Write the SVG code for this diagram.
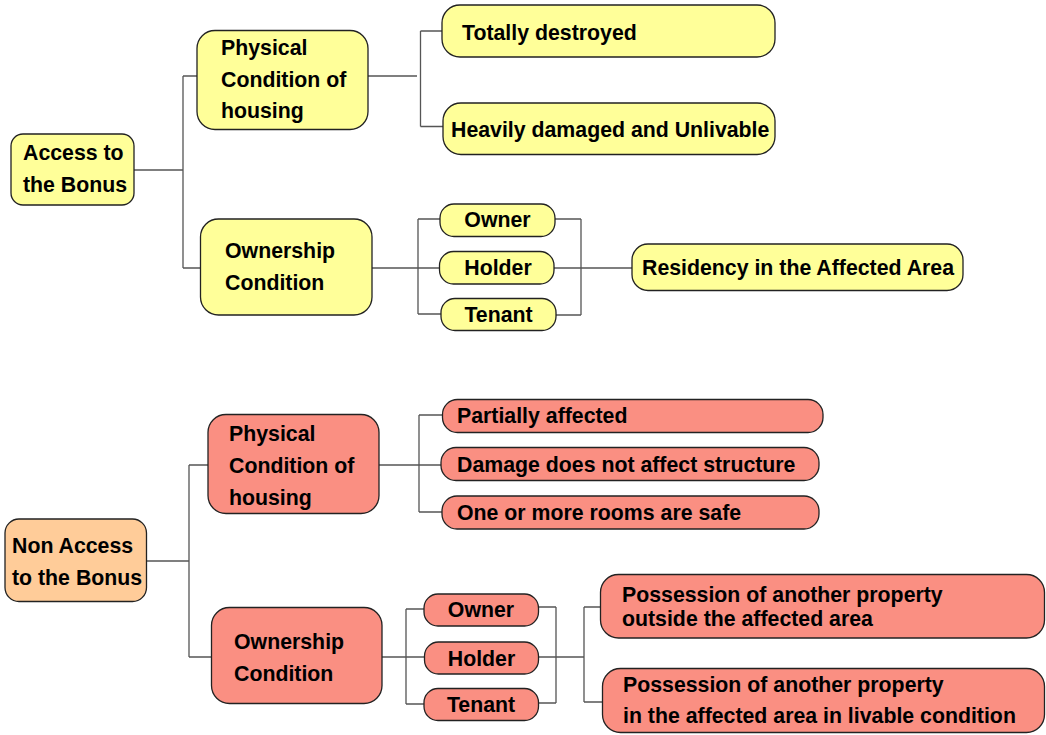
<svg xmlns="http://www.w3.org/2000/svg" width="1046" height="735" viewBox="0 0 1046 735">
<style>
.y{fill:#FFFF99;stroke:#222;stroke-width:1.3}
.r{fill:#FA8F82;stroke:#222;stroke-width:1.3}
.o{fill:#FFCC99;stroke:#222;stroke-width:1.3}
text{font-family:"Liberation Sans",Arial,sans-serif;font-weight:bold;font-size:21.3px;fill:#000}
.m{text-anchor:middle}
#connectors path{fill:none;stroke:#555;stroke-width:1.3}
</style>
<rect width="1046" height="735" fill="#fff"/>
<g id="connectors">
<path d="M134,170H183M183,76V268M183,76H198M183,268H201"/>
<path d="M368,76H417M420.5,31V126.5M420.5,31H443M420.5,126.5H443"/>
<path d="M372,268H440M418,219V314M418,219H441M418,314H441"/>
<path d="M555,219H581M581,219V315M556,315H581M554,268H632"/>
<path d="M146,561H189M189,465V657M189,465H208M189,657H212"/>
<path d="M379,465H441M419,415V512M419,415H443M419,512H442"/>
<path d="M382,657H424M406,609V704M406,609H424M406,704H424"/>
<path d="M538,607H556M556,607V703M538,703H556M538,657H584M584,607V702M584,607H601M584,702H603"/>
</g>
<g id="access"><rect class="y" x="11" y="134" width="123" height="71" rx="12"/><text x="23" y="160">Access to</text><text x="23" y="192">the Bonus</text></g>
<g id="phys1"><rect class="y" x="197" y="30.5" width="171" height="99" rx="18"/><text x="221" y="55">Physical</text><text x="221" y="87">Condition of</text><text x="221" y="118">housing</text></g>
<g id="totally"><rect class="y" x="442" y="5" width="333" height="52" rx="18"/><text x="462" y="40">Totally destroyed</text></g>
<g id="heavily"><rect class="y" x="443" y="103" width="332" height="51.5" rx="18"/><text x="451" y="137">Heavily damaged and Unlivable</text></g>
<g id="own1"><rect class="y" x="200.5" y="219" width="171.5" height="96" rx="18"/><text x="225" y="258">Ownership</text><text x="225" y="290">Condition</text></g>
<g id="owner1"><rect class="y" x="440" y="204" width="115" height="32.5" rx="14"/><text class="m" x="497.5" y="227">Owner</text></g>
<g id="holder1"><rect class="y" x="439.5" y="251.5" width="114.5" height="32.5" rx="14"/><text class="m" x="498" y="274.5">Holder</text></g>
<g id="tenant1"><rect class="y" x="441" y="298.5" width="115" height="32" rx="14"/><text class="m" x="498.5" y="322">Tenant</text></g>
<g id="residency"><rect class="y" x="632" y="244" width="331" height="46.5" rx="16"/><text x="642" y="275">Residency in the Affected Area</text></g>
<g id="nonaccess"><rect class="o" x="5" y="519" width="141.5" height="82.5" rx="14"/><text x="12" y="553">Non Access</text><text x="12" y="584.5">to the Bonus</text></g>
<g id="phys2"><rect class="r" x="208" y="414.5" width="171" height="99" rx="18"/><text x="229" y="441">Physical</text><text x="229" y="473">Condition of</text><text x="229" y="505">housing</text></g>
<g id="partially"><rect class="r" x="442.5" y="399.5" width="380.5" height="33" rx="15"/><text x="457" y="423">Partially affected</text></g>
<g id="damage"><rect class="r" x="441" y="447.5" width="378" height="33" rx="15"/><text x="457" y="472">Damage does not affect structure</text></g>
<g id="onemore"><rect class="r" x="442" y="496" width="377" height="33" rx="15"/><text x="457" y="519.5">One or more rooms are safe</text></g>
<g id="own2"><rect class="r" x="211.5" y="607.5" width="170.5" height="96" rx="18"/><text x="234" y="648.5">Ownership</text><text x="234" y="681">Condition</text></g>
<g id="owner2"><rect class="r" x="424" y="594" width="114.5" height="32" rx="14"/><text class="m" x="481" y="617">Owner</text></g>
<g id="holder2"><rect class="r" x="424.5" y="642" width="114" height="32" rx="14"/><text class="m" x="481.5" y="665.5">Holder</text></g>
<g id="tenant2"><rect class="r" x="424" y="688.5" width="114.5" height="32" rx="14"/><text class="m" x="481" y="712">Tenant</text></g>
<g id="possession1"><rect class="r" x="600.5" y="574.5" width="444" height="63.5" rx="18"/><text x="622" y="602">Possession of another property</text><text x="622" y="626">outside the affected area</text></g>
<g id="possession2"><rect class="r" x="602.5" y="668.5" width="442" height="64" rx="18"/><text x="623" y="692">Possession of another property</text><text x="623" y="723">in the affected area in livable condition</text></g>
</svg>
